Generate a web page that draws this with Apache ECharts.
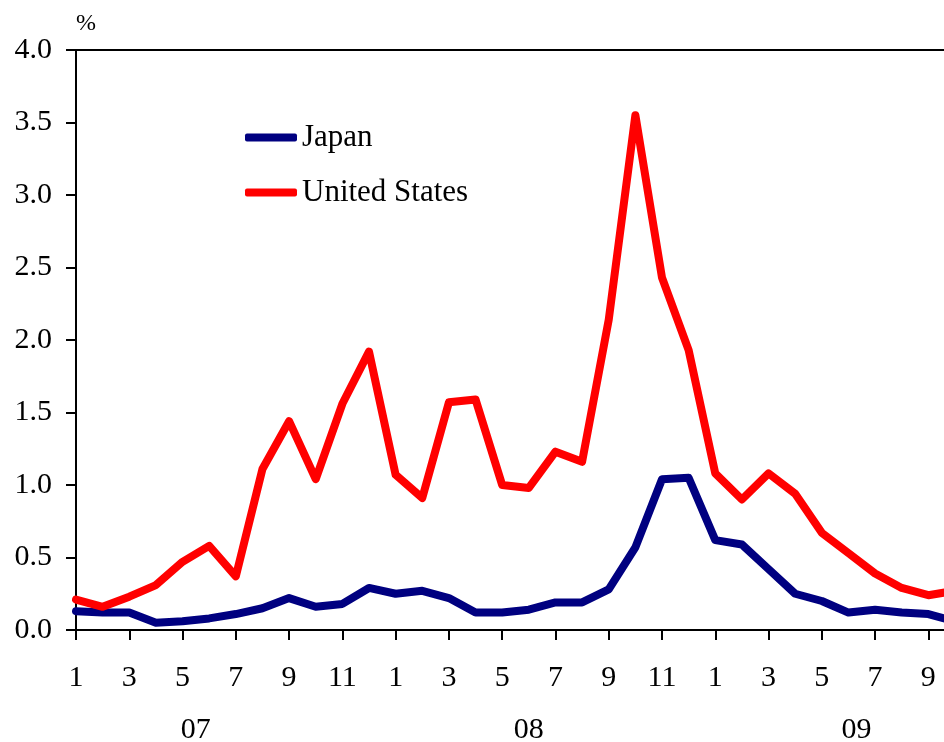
<!DOCTYPE html>
<html><head><meta charset="utf-8">
<script src="https://cdn.jsdelivr.net/npm/echarts@6/dist/echarts.min.js"></script>
<style>html,body{margin:0;padding:0;background:#fff;overflow:hidden}#c{width:944px;height:742px}</style>
</head><body><div id="c"></div>
<script>
const categories = ['2007-01','2007-02','2007-03','2007-04','2007-05','2007-06','2007-07','2007-08','2007-09','2007-10','2007-11','2007-12',
'2008-01','2008-02','2008-03','2008-04','2008-05','2008-06','2008-07','2008-08','2008-09','2008-10','2008-11','2008-12',
'2009-01','2009-02','2009-03','2009-04','2009-05','2009-06','2009-07','2009-08','2009-09','2009-10'];
const japan = [0.13,0.12,0.12,0.05,0.06,0.08,0.11,0.15,0.22,0.16,0.18,0.29,
0.25,0.27,0.22,0.12,0.12,0.14,0.19,0.19,0.28,0.57,1.04,1.05,
0.62,0.59,0.42,0.25,0.20,0.12,0.14,0.12,0.11,0.06];
const us = [0.21,0.16,0.23,0.31,0.47,0.58,0.37,1.11,1.44,1.04,1.56,1.92,
1.07,0.91,1.57,1.59,1.00,0.98,1.23,1.16,2.14,3.55,2.43,1.93,
1.08,0.90,1.08,0.94,0.67,0.53,0.39,0.29,0.24,0.27];
const yearLabels = ['07','08','09'];
const yearLabelPos = [4.5, 17, 29.3];
const FONT = 'Liberation Serif';

const chart = echarts.init(document.getElementById('c'), null, {renderer:'canvas'});
chart.setOption({
  animation:false,
  backgroundColor:'#fff',
  grid:{left:76, top:50, height:580, width:879, outerBoundsMode:'none', containLabel:false,
    show:true, borderColor:'#000', borderWidth:2, backgroundColor:'transparent'},
  legend:{
    orient:'vertical', left:245, top:122, padding:0, icon:'roundRect', itemWidth:52, itemHeight:8, itemGap:24,
    textStyle:{fontFamily:FONT, fontSize:31, color:'#000', lineHeight:30, padding:[0,0,0,0]},
    data:['Japan','United States']
  },
  xAxis:{
    type:'category', data:categories, boundaryGap:false,
    axisLine:{lineStyle:{color:'#000', width:2}},
    axisTick:{interval:1, length:10, inside:false, lineStyle:{color:'#000', width:2}},
    axisLabel:{interval:1, margin:33, fontFamily:FONT, fontSize:30, color:'#000',
      formatter:(v)=>String(parseInt(v.slice(5),10))},
    splitLine:{show:false}
  },
  yAxis:{
    type:'value', min:0, max:4, interval:0.5,
    name:'%', nameLocation:'end', nameGap:14,
    nameTextStyle:{fontFamily:FONT, fontSize:24, color:'#000', align:'left'},
    axisLine:{show:true, lineStyle:{color:'#000', width:2}},
    axisTick:{show:true, length:10, lineStyle:{color:'#000', width:2}},
    axisLabel:{margin:24, fontFamily:FONT, fontSize:30, color:'#000', formatter:(v)=>v.toFixed(1)},
    splitLine:{show:false}
  },
  series:[
    {name:'Japan', type:'line', data:japan, symbol:'none', color:'#000080',
      lineStyle:{width:8, color:'#000080', cap:'round', join:'round'}},
    {name:'United States', type:'line', data:us, symbol:'none', color:'#ff0000',
      lineStyle:{width:8, color:'#ff0000', cap:'round', join:'round'}}
  ]
});
function px(f){
  const i=Math.floor(f), t=f-i;
  const a=chart.convertToPixel({xAxisIndex:0}, categories[i]);
  const b=chart.convertToPixel({xAxisIndex:0}, categories[Math.min(i+1,categories.length-1)]);
  return a+(b-a)*t;
}
const yBase = chart.convertToPixel({yAxisIndex:0}, 0);
chart.setOption({graphic:yearLabels.map((t,k)=>({
  type:'text', x:px(yearLabelPos[k]), y:yBase+100,
  style:{text:t, fontFamily:FONT, fontSize:30, fill:'#000', textAlign:'center', textVerticalAlign:'middle'}
}))});
</script></body></html>
